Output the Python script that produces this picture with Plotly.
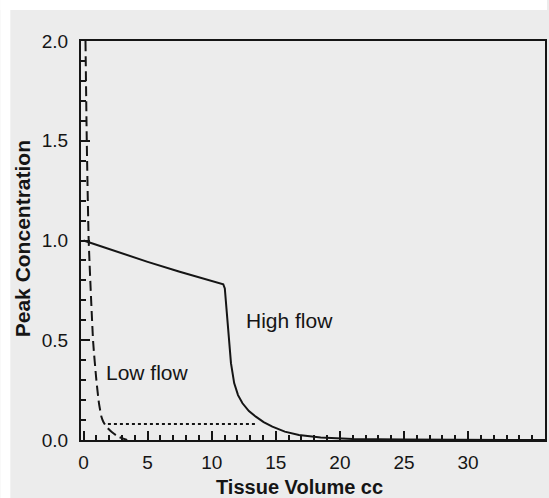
import plotly.graph_objects as go

# data
low_x = [0.15, 0.25, 0.4, 0.75, 1.0, 1.2, 1.4, 1.55, 1.8, 2.2, 2.7, 3.4]
low_y = [2.0, 1.5, 1.0, 0.49, 0.3, 0.185, 0.115, 0.09, 0.065, 0.04, 0.017, 0.0]

high_x = [0, 2.5, 5, 7.5, 10.9, 11.02, 11.12, 11.24, 11.5, 11.75, 12.05, 12.4, 12.9,
          13.44, 14.05, 14.73, 15.7, 16.8, 18.5, 21, 25, 36]
high_y = [1.0, 0.945, 0.893, 0.843, 0.78, 0.76, 0.68, 0.6, 0.385, 0.285, 0.225, 0.184, 0.145,
          0.117, 0.09, 0.067, 0.042, 0.025, 0.012, 0.005, 0.002, 0.0]

dot_x = [1.9, 13.44]
dot_y = [0.08, 0.08]

labels = ["High flow", "Low flow"]
label_x = [16.1, 5.0]
label_y = [0.60, 0.34]

x_ticks = [0, 5, 10, 15, 20, 25, 30]
y_ticks = [0.0, 0.5, 1.0, 1.5, 2.0]

INK = "#151515"
BG = "#ececec"
FONT = "Liberation Sans, Arial, sans-serif"

fig = go.Figure()
fig.add_trace(go.Scatter(x=low_x, y=low_y, mode="lines",
                         line=dict(color=INK, width=2, dash="10px,5px", shape="spline", smoothing=0.5),
                         hoverinfo="skip", showlegend=False))
fig.add_trace(go.Scatter(x=high_x, y=high_y, mode="lines",
                         line=dict(color=INK, width=2),
                         hoverinfo="skip", showlegend=False))
fig.add_trace(go.Scatter(x=dot_x, y=dot_y, mode="lines",
                         line=dict(color=INK, width=2, dash="dot"),
                         hoverinfo="skip", showlegend=False))

for t, xx, yy in zip(labels, label_x, label_y):
    fig.add_annotation(x=xx, y=yy, text=t, showarrow=False,
                       font=dict(family=FONT, size=21, color=INK))

L, R, T, B = 81, 2, 41, 58
W, H = 549, 498
pw, ph = W - L - R, H - T - B

def px(xp):
    return (xp - L) / pw

def py(yp):
    return (H - B - yp) / ph

# white strips of the scan (top and left edge)
fig.add_shape(type="rect", xref="paper", yref="paper", x0=px(0), x1=px(W), y0=py(10), y1=py(0),
              fillcolor="white", line_width=0, layer="above")
fig.add_shape(type="rect", xref="paper", yref="paper", x0=px(0), x1=px(10), y0=py(H), y1=py(0),
              fillcolor="white", line_width=0, layer="above")

# axis titles
fig.add_annotation(xref="paper", yref="paper", x=px(300), y=py(487), text="<b>Tissue Volume cc</b>",
                   showarrow=False, font=dict(family=FONT, size=20, color=INK),
                   xanchor="center", yanchor="middle")
fig.add_annotation(xref="paper", yref="paper", x=px(22), y=py(239), text="<b>Peak Concentration</b>",
                   showarrow=False, font=dict(family=FONT, size=21, color=INK), textangle=-90,
                   xanchor="center", yanchor="middle")

fig.update_layout(
    width=W, height=H,
    margin=dict(l=L, r=R, t=T, b=B, pad=0),
    paper_bgcolor=BG, plot_bgcolor=BG,
    font=dict(family=FONT, size=19, color=INK),
    xaxis=dict(range=[-0.2, 36], showgrid=False, zeroline=False,
               showline=True, linecolor=INK, linewidth=2, mirror=True,
               ticks="inside", ticklen=9, tickwidth=2, tickcolor=INK,
               tickvals=x_ticks, ticktext=[str(v) for v in x_ticks],
               minor=dict(ticks="inside", ticklen=5, tickwidth=1.5, tickcolor=INK, dtick=1, tick0=0),
               ticklabelstandoff=4),
    yaxis=dict(range=[0, 2.0], showgrid=False, zeroline=False,
               showline=True, linecolor=INK, linewidth=2, mirror=True,
               ticks="inside", ticklen=9, tickwidth=2, tickcolor=INK,
               tickvals=y_ticks, ticktext=["%.1f" % v for v in y_ticks],
               minor=dict(ticks="inside", ticklen=5, tickwidth=1.5, tickcolor=INK, dtick=0.1, tick0=0),
               ticklabelstandoff=7),
)

fig.write_html("out.html")
